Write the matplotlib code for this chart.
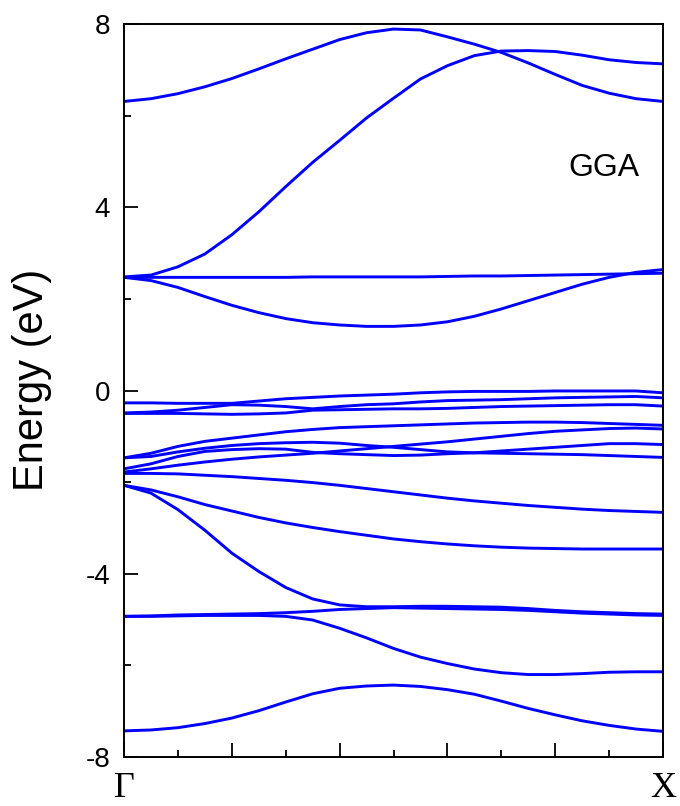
import numpy as np
import matplotlib
matplotlib.use("Agg")
import matplotlib.pyplot as plt
from matplotlib.ticker import MultipleLocator

# k-path Γ -> X, sampled every 0.05
k = [0.00, 0.05, 0.10, 0.15, 0.20, 0.25, 0.30, 0.35, 0.40, 0.45, 0.50,
     0.55, 0.60, 0.65, 0.70, 0.75, 0.80, 0.85, 0.90, 0.95, 1.00]

# conduction bands (eV)
c1 = [6.31, 6.37, 6.48, 6.63, 6.81, 7.02, 7.24, 7.45, 7.66, 7.81, 7.89,
      7.87, 7.72, 7.56, 7.38, 7.15, 6.90, 6.66, 6.49, 6.37, 6.31]
c2 = [2.48, 2.52, 2.70, 2.98, 3.40, 3.90, 4.45, 4.98, 5.46, 5.95, 6.38,
      6.80, 7.09, 7.31, 7.41, 7.42, 7.40, 7.32, 7.22, 7.16, 7.13]
c3 = [2.47, 2.47, 2.47, 2.47, 2.47, 2.47, 2.47, 2.48, 2.48, 2.48, 2.48,
      2.48, 2.49, 2.50, 2.50, 2.51, 2.52, 2.53, 2.54, 2.55, 2.56]
c4 = [2.47, 2.40, 2.25, 2.05, 1.86, 1.70, 1.57, 1.48, 1.43, 1.40, 1.40,
      1.43, 1.50, 1.62, 1.78, 1.96, 2.14, 2.32, 2.47, 2.58, 2.64]

# valence bands near 0 (eV)
v1 = [-0.27, -0.27, -0.28, -0.28, -0.28, -0.23, -0.18, -0.15, -0.12, -0.10, -0.08,
      -0.05, -0.03, -0.02, -0.02, -0.02, -0.01, -0.01, -0.01, -0.01, -0.05]
v2 = [-0.49, -0.47, -0.43, -0.37, -0.31, -0.32, -0.35, -0.40, -0.35, -0.31, -0.29,
      -0.25, -0.22, -0.21, -0.20, -0.18, -0.16, -0.15, -0.14, -0.13, -0.16]
v3 = [-0.50, -0.50, -0.50, -0.51, -0.52, -0.51, -0.49, -0.43, -0.42, -0.41, -0.40,
      -0.40, -0.39, -0.37, -0.35, -0.34, -0.33, -0.32, -0.31, -0.31, -0.34]

# bands around -1 eV
p1 = [-1.47, -1.37, -1.22, -1.11, -1.04, -0.97, -0.90, -0.85, -0.81, -0.79, -0.77,
      -0.75, -0.73, -0.71, -0.70, -0.69, -0.69, -0.70, -0.72, -0.74, -0.76]
p2 = [-1.47, -1.44, -1.34, -1.26, -1.20, -1.16, -1.14, -1.13, -1.15, -1.20, -1.24,
      -1.29, -1.34, -1.36, -1.37, -1.38, -1.39, -1.40, -1.42, -1.44, -1.46]
p3 = [-1.78, -1.71, -1.63, -1.56, -1.50, -1.45, -1.41, -1.37, -1.32, -1.27, -1.22,
      -1.17, -1.12, -1.06, -1.00, -0.94, -0.89, -0.86, -0.83, -0.82, -0.84]
p4 = [-1.71, -1.60, -1.44, -1.33, -1.29, -1.27, -1.28, -1.35, -1.38, -1.40, -1.42,
      -1.41, -1.38, -1.36, -1.32, -1.28, -1.24, -1.20, -1.16, -1.16, -1.18]

# deeper bands
q1 = [-1.81, -1.81, -1.82, -1.85, -1.88, -1.92, -1.96, -2.01, -2.07, -2.14, -2.21,
      -2.28, -2.35, -2.41, -2.46, -2.51, -2.55, -2.59, -2.62, -2.64, -2.66]
q2 = [-2.07, -2.17, -2.32, -2.49, -2.63, -2.77, -2.89, -2.99, -3.08, -3.16, -3.24,
      -3.30, -3.35, -3.39, -3.42, -3.44, -3.45, -3.46, -3.46, -3.46, -3.46]
q3 = [-2.07, -2.24, -2.60, -3.05, -3.55, -3.95, -4.30, -4.55, -4.68, -4.72, -4.72,
      -4.71, -4.71, -4.72, -4.73, -4.76, -4.80, -4.83, -4.85, -4.87, -4.88]
f1 = [-4.93, -4.92, -4.90, -4.89, -4.88, -4.87, -4.85, -4.82, -4.78, -4.76, -4.74,
      -4.75, -4.76, -4.77, -4.78, -4.80, -4.83, -4.86, -4.88, -4.90, -4.91]
f2 = [-4.93, -4.93, -4.92, -4.91, -4.91, -4.91, -4.93, -5.01, -5.19, -5.40, -5.63,
      -5.82, -5.96, -6.08, -6.16, -6.20, -6.20, -6.18, -6.15, -6.14, -6.14]
b1 = [-7.43, -7.41, -7.36, -7.27, -7.15, -6.99, -6.80, -6.62, -6.50, -6.45, -6.43,
      -6.46, -6.53, -6.63, -6.78, -6.94, -7.08, -7.21, -7.31, -7.39, -7.44]

bands = [c1, c2, c3, c4, v1, v2, v3, p1, p2, p3, p4, q1, q2, q3, f1, f2, b1]

y_ticks = [8, 4, 0, -4, -8]
y_tick_labels = ["8", "4", "0", "-4", "-8"]
k_labels = ["\u0393", "X"]
panel_label = "GGA"
y_label = "Energy (eV)"

fig = plt.figure(figsize=(6.8, 8.06), dpi=100)
ax = fig.add_axes([0.1824, 0.0608, 0.7926, 0.9094])

for band in bands:
    ax.plot(k, band, color="#0000ff", lw=2.1, solid_joinstyle="round")

ax.set_xlim(0, 1)
ax.set_ylim(-8, 8)

ax.set_yticks(y_ticks)
ax.set_yticklabels(y_tick_labels, fontsize=20, family="Liberation Sans")
ax.yaxis.set_minor_locator(MultipleLocator(2))
ax.xaxis.set_major_locator(MultipleLocator(0.2))
ax.xaxis.set_minor_locator(MultipleLocator(0.1))
ax.set_xticklabels([])

ax.tick_params(axis="both", which="major", direction="in", length=10, width=1.3,
               top=False, right=False, pad=10)
ax.tick_params(axis="both", which="minor", direction="in", length=5, width=1.3,
               top=False, right=False)
for s in ax.spines.values():
    s.set_linewidth(1.4)

fig.text(32 / 680, 1 - 380 / 806, y_label, rotation=90, ha="center", va="center",
         fontsize=30, family="Liberation Sans")

ax.text(0.0, -0.0655, k_labels[0], transform=ax.transAxes, ha="center",
        va="bottom", fontsize=26, family="Liberation Serif")
ax.text(1.0, -0.0655, k_labels[1], transform=ax.transAxes, ha="center",
        va="bottom", fontsize=26, family="Liberation Serif")

ax.text(0.89, 0.803, panel_label, transform=ax.transAxes, ha="center", va="center",
        fontsize=23, family="Liberation Sans")

fig.savefig("out.png", dpi=100)
